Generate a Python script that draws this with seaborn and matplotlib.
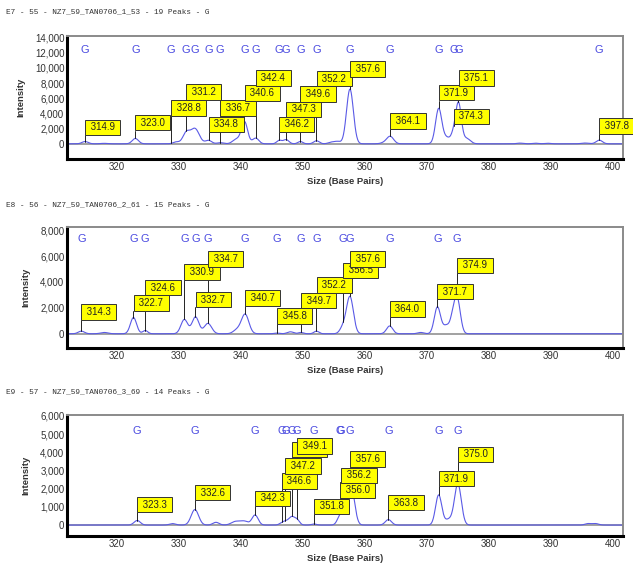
import numpy as np
import pandas as pd
import matplotlib
matplotlib.use("Agg")
import matplotlib.pyplot as plt
from matplotlib.ticker import FuncFormatter
import seaborn as sns

# ---------------------------------------------
# Peak data
# ---------------------------------------------
titles = [
    "E7 - 55 - NZ7_59_TAN0706_1_53 - 19 Peaks - G",
    "E8 - 56 - NZ7_59_TAN0706_2_61 - 15 Peaks - G",
    "E9 - 57 - NZ7_59_TAN0706_3_69 - 14 Peaks - G",
]

# trace peaks: position (bp), height, width (sigma)
p1_pos = [314.9, 318.0, 323.0, 329.6, 331.2, 332.6, 334.8, 336.7, 339.3, 340.6, 342.4,
          346.2, 347.3, 349.6, 352.2, 354.6, 355.6, 357.6, 363.2, 364.1, 371.9, 373.2,
          374.3, 375.1, 376.4, 385.0, 387.5, 389.5, 395.5, 397.8]
p1_h = [300, 60, 700, 250, 1400, 2000, 450, 150, 600, 2900, 750,
        450, 550, 300, 400, 200, 300, 7200, 150, 950, 4600, 800,
        1100, 5300, 700, 90, 80, 70, 100, 480]
p1_w = [0.5, 0.6, 0.5, 0.5, 0.55, 0.7, 0.5, 0.5, 0.6, 0.5, 0.5,
        0.4, 0.45, 0.4, 0.45, 0.5, 0.5, 0.55, 0.6, 0.55, 0.5, 0.6,
        0.4, 0.45, 0.6, 0.5, 0.5, 0.5, 0.6, 0.5]

p2_pos = [314.3, 318.0, 322.7, 324.6, 330.9, 332.7, 334.7, 339.4, 340.7, 345.8, 348.0,
          349.7, 352.2, 356.5, 357.6, 364.0, 369.0, 371.7, 373.2, 374.2, 374.9]
p2_h = [200, 100, 1250, 250, 1100, 1300, 800, 300, 1500, 50, 150,
        100, 200, 500, 2850, 600, 100, 2050, 650, 900, 2650]
p2_w = [0.5, 0.6, 0.5, 0.4, 0.55, 0.55, 0.6, 0.6, 0.6, 0.4, 0.5,
        0.4, 0.4, 0.5, 0.55, 0.5, 0.5, 0.5, 0.6, 0.4, 0.5]

p3_pos = [323.3, 329.0, 332.6, 336.0, 339.2, 340.6, 342.3, 346.6, 347.2, 348.2, 349.1,
          351.8, 356.0, 356.8, 357.8, 363.8, 371.9, 373.5, 375.0, 396.0, 397.2]
p3_h = [250, 80, 850, 150, 200, 200, 550, 100, 150, 450, 250,
        60, 450, 500, 2050, 300, 1650, 300, 2250, 80, 80]
p3_w = [0.5, 0.5, 0.6, 0.5, 0.7, 0.6, 0.5, 0.4, 0.4, 0.5, 0.4,
        0.4, 0.45, 0.5, 0.55, 0.5, 0.5, 0.6, 0.55, 0.5, 0.5]

# called peaks: label, height of label box bottom
l1_lab = ["314.9", "323.0", "328.8", "331.2", "334.8", "336.7", "340.6", "342.4", "346.2",
          "347.3", "349.6", "352.2", "357.6", "364.1", "371.9", "374.3", "375.1", "397.8"]
l1_y = [1150, 1750, 3700, 5800, 1550, 3700, 5650, 7650, 1550,
        3500, 5550, 7550, 8850, 1950, 5700, 2600, 7650, 1300]
g1_pos = [314.9, 323.0, 328.8, 331.2, 332.6, 334.8, 336.7, 340.6, 342.4, 346.2,
          347.3, 349.6, 352.2, 357.6, 364.1, 371.9, 374.3, 375.1, 397.8]

l2_lab = ["314.3", "322.7", "324.6", "330.9", "332.7", "334.7", "340.7", "345.8",
          "349.7", "352.2", "356.5", "357.6", "364.0", "371.7", "374.9"]
l2_y = [1090, 1770, 2960, 4180, 2030, 5190, 2150, 760,
        1950, 3160, 4300, 5190, 1320, 2660, 4680]

l3_lab = ["323.3", "332.6", "342.3", "346.6", "347.2", "348.2", "349.1", "351.8",
          "356.0", "356.2", "357.6", "363.8", "371.9", "375.0"]
l3_y = [700, 1360, 1040, 1990, 2820, 3730, 3920, 600,
        1500, 2310, 3200, 800, 2120, 3450]

panels = [
    dict(pos=p1_pos, h=p1_h, w=p1_w, lab=l1_lab, ly=l1_y, g=g1_pos, gy=12300,
         ylim=(-2000, 14200), yticks=np.arange(0, 14001, 2000)),
    dict(pos=p2_pos, h=p2_h, w=p2_w, lab=l2_lab, ly=l2_y, g=None, gy=7300,
         ylim=(-1100, 8250), yticks=np.arange(0, 8001, 2000)),
    dict(pos=p3_pos, h=p3_h, w=p3_w, lab=l3_lab, ly=l3_y, g=None, gy=5150,
         ylim=(-600, 6050), yticks=np.arange(0, 6001, 1000)),
]

sns.set_style("white")
plt.rcParams["font.family"] = ["Liberation Sans", "DejaVu Sans"]

fig = plt.figure(figsize=(6.33, 5.63), dpi=100)
axes_rects = [
    [0.106, 0.7176, 0.878, 0.2185],
    [0.106, 0.3819, 0.878, 0.215],
    [0.106, 0.048, 0.878, 0.215],
]
title_y = [12, 205, 392]

xs = np.linspace(312, 401.6, 2000)
trace_color = "#5a5ae6"

for i, p in enumerate(panels):
    ax = fig.add_axes(axes_rects[i])
    ys = np.zeros_like(xs)
    for c, h, w in zip(p["pos"], p["h"], p["w"]):
        ys += h * np.exp(-0.5 * ((xs - c) / w) ** 2)
    df = pd.DataFrame({"size": xs, "intensity": ys})

    ax.axhline(0, color="#9a9a9a", lw=1.3, zorder=1)
    sns.lineplot(data=df, x="size", y="intensity", ax=ax, color=trace_color,
                 lw=0.8, estimator=None, zorder=2)

    # label boxes with leader lines
    for lab, ly in zip(p["lab"], p["ly"]):
        x = float(lab)
        base = np.interp(x, xs, ys)
        ax.plot([x, x], [base, ly], color="black", lw=0.6, zorder=3)
        ax.annotate(" " + lab + " ", xy=(x, ly), xytext=(2.0, 2.0),
                    textcoords="offset points", ha="left", va="bottom",
                    fontsize=7, color="#222222", zorder=4,
                    bbox=dict(boxstyle="square,pad=0.28", fc="#ffff00",
                              ec="#333333", lw=0.7))

    gpos = p["g"] if p["g"] is not None else [float(l) for l in p["lab"]]
    for gx in gpos:
        ax.text(gx, p["gy"], "G", ha="center", va="center", fontsize=8,
                color="#4a4ae0", zorder=5)

    ax.set_xlim(312, 401.6)
    ax.set_ylim(*p["ylim"])
    ax.set_xticks(np.arange(320, 401, 10))
    ax.set_yticks(p["yticks"])
    ax.yaxis.set_major_formatter(FuncFormatter(lambda v, _: f"{v:,.0f}"))
    ax.tick_params(labelsize=7, length=0, pad=2, colors="#333333")
    ax.set_xlabel("Size (Base Pairs)", fontsize=6.8, fontweight="bold",
                  color="#333333", labelpad=4)
    ax.set_ylabel("Intensity", fontsize=6.8, fontweight="bold",
                  color="#333333", labelpad=7)

    for side in ["left", "bottom"]:
        ax.spines[side].set_color("black")
        ax.spines[side].set_linewidth(2.2)
    for side in ["top", "right"]:
        ax.spines[side].set_color("#8a8a8a")
        ax.spines[side].set_linewidth(1.4)

    fig.text(6 / 633, 1 - title_y[i] / 563, titles[i], ha="left", va="center",
             fontsize=5.6, family="Liberation Mono", color="#333333")

fig.savefig("out.png", dpi=100)
